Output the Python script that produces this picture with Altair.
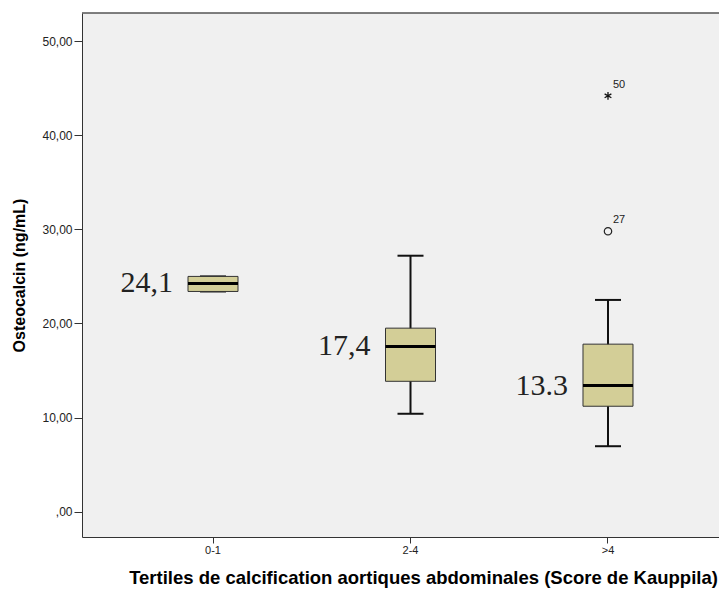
import altair as alt
import pandas as pd

# ---- data ----
categories = ["0-1", "2-4", ">4"]
q1 = [23.4, 13.85, 11.2]
medians = [24.25, 17.55, 13.4]
q3 = [25.0, 19.5, 17.8]
whisker_low = [23.4, 10.4, 6.95]
whisker_high = [25.0, 27.2, 22.5]
median_labels = ["24,1", "17,4", "13.3"]

outlier_cat = [">4", ">4"]
outlier_val = [44.2, 29.8]
outlier_id = ["50", "27"]
outlier_kind = ["extreme", "outlier"]

y_ticks = [0, 10, 20, 30, 40, 50]

boxes = pd.DataFrame({
    "cat": categories, "q1": q1, "med": medians, "q3": q3,
    "lo": whisker_low, "hi": whisker_high, "lab": median_labels,
})
outliers = pd.DataFrame({
    "cat": outlier_cat, "val": outlier_val, "id": outlier_id, "kind": outlier_kind,
})

SANS = "Liberation Sans"
PLOT_W, PLOT_H = 637, 524

xscale = alt.Scale(domain=categories, paddingInner=0, paddingOuter=0.1127, align=0.7247)
yscale = alt.Scale(domain=[-2.7, 53.0], nice=False, zero=False)

xaxis = alt.Axis(
    title="Tertiles de calcification aortiques abdominales (Score de Kauppila)",
    labelAngle=0, labelFont=SANS, labelFontSize=11, labelColor="#222",
    labelPadding=1, tickSize=6, tickColor="#333", domainColor="#333",
    titleFont=SANS, titleFontSize=18.5, titleFontWeight="bold", titleColor="#000",
    titlePadding=13, titleX=341, titleAnchor="middle", grid=False,
)
yaxis = alt.Axis(
    title="Osteocalcin (ng/mL)", values=y_ticks,
    labelExpr="datum.value == 0 ? ',00' : replace(format(datum.value, '.2f'), '.', ',')",
    labelFont=SANS, labelFontSize=12, labelColor="#222", labelPadding=2,
    tickSize=8, tickColor="#333", domainColor="#333",
    titleFont=SANS, titleFontSize=16, titleFontWeight="bold", titleColor="#000",
    titlePadding=14, grid=False,
)

X = alt.X("cat:N", sort=categories, scale=xscale, axis=xaxis)

base = alt.Chart(boxes)

whiskers = base.mark_rule(color="#111", strokeWidth=2).encode(
    x=X, y=alt.Y("lo:Q", scale=yscale, axis=yaxis), y2="hi:Q")
cap_lo = base.mark_tick(color="#111", thickness=2, size=26, opacity=1).encode(
    x=X, y=alt.Y("lo:Q", scale=yscale))
cap_hi = base.mark_tick(color="#111", thickness=2, size=26, opacity=1).encode(
    x=X, y=alt.Y("hi:Q", scale=yscale))
box = base.mark_bar(size=50, fill="#D3CE97", stroke="#333", strokeWidth=1, opacity=1).encode(
    x=X, y=alt.Y("q1:Q", scale=yscale), y2="q3:Q")
med = base.mark_tick(color="#000", thickness=3, size=50, opacity=1).encode(
    x=X, y=alt.Y("med:Q", scale=yscale))
med_text = base.mark_text(font="Liberation Serif", fontSize=30, align="right",
                          baseline="middle", dx=-40, color="#222").encode(
    x=X, y=alt.Y("med:Q", scale=yscale), text="lab:N")

ob = alt.Chart(outliers)
circ = ob.transform_filter("datum.kind == 'outlier'").mark_point(
    shape="circle", filled=False, size=55, color="#222", strokeWidth=1.2, opacity=1).encode(
    x=X, y=alt.Y("val:Q", scale=yscale))
star = ob.transform_filter("datum.kind == 'extreme'").mark_point(
    shape="M0,-1L0,1M-0.87,-0.5L0.87,0.5M-0.87,0.5L0.87,-0.5",
    filled=False, size=60, color="#111", strokeWidth=1.3, opacity=1).encode(
    x=X, y=alt.Y("val:Q", scale=yscale))
olab = ob.mark_text(font=SANS, fontSize=11, align="left", baseline="middle",
                    dx=5, dy=-11, color="#222").encode(
    x=X, y=alt.Y("val:Q", scale=yscale), text="id:N")

top_frame = alt.Chart(alt.Data(values=[{}])).mark_rule(color="#555", strokeWidth=1.5).encode(
    x=alt.value(0), x2=alt.value(PLOT_W), y=alt.value(0))

chart = alt.layer(whiskers, cap_lo, cap_hi, box, med, med_text, circ, star, olab, top_frame).properties(
    width=PLOT_W, height=PLOT_H,
    autosize=alt.AutoSizeParams(type="none"),
    padding={"left": 74, "top": 5, "right": 0, "bottom": 52},
    background="#ffffff",
).configure_view(fill="#F0F0F0", stroke=None)

chart.save("out.html", embed_options={"renderer": "svg", "actions": False})
